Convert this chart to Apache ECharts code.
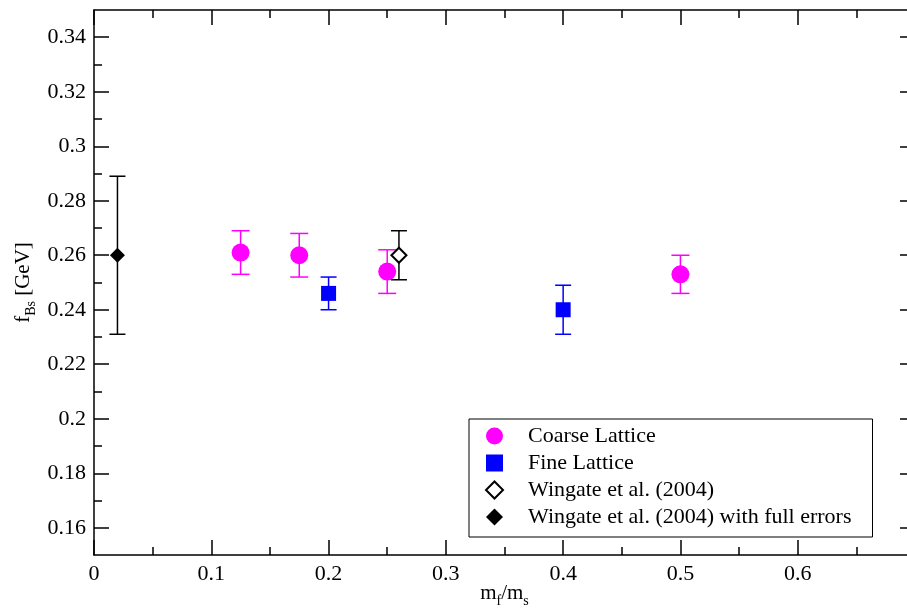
<!DOCTYPE html>
<html>
<head>
<meta charset="utf-8">
<script src="https://cdn.jsdelivr.net/npm/echarts@6/dist/echarts.min.js"></script>
<style>
html,body{margin:0;padding:0;background:#fff;}
#chart{width:907px;height:611px;}
</style>
</head>
<body>
<div id="chart"></div>
<script>
// ---- data ----
const xMajorTicks = [0, 0.1, 0.2, 0.3, 0.4, 0.5, 0.6];
const xMinorTicks = [0.05, 0.15, 0.25, 0.35, 0.45, 0.55, 0.65];
const yMajorTicks = [0.16, 0.18, 0.2, 0.22, 0.24, 0.26, 0.28, 0.3, 0.32, 0.34];
const yMinorTicks = [0.17, 0.19, 0.21, 0.23, 0.25, 0.27, 0.29, 0.31, 0.33];

const coarseX  = [0.125, 0.175, 0.25, 0.5];
const coarseY  = [0.261, 0.260, 0.254, 0.253];
const coarseLo = [0.253, 0.252, 0.246, 0.246];
const coarseHi = [0.269, 0.268, 0.262, 0.260];

const fineX  = [0.2, 0.4];
const fineY  = [0.246, 0.240];
const fineLo = [0.240, 0.231];
const fineHi = [0.252, 0.249];

const wingX  = [0.26];
const wingY  = [0.260];
const wingLo = [0.251];
const wingHi = [0.269];

const wingFullX  = [0.02];
const wingFullY  = [0.260];
const wingFullLo = [0.231];
const wingFullHi = [0.289];

const seriesNames = ['Coarse Lattice', 'Fine Lattice', 'Wingate et al. (2004)', 'Wingate et al. (2004) with full errors'];

// ---- helpers ----
const FONT = '"Liberation Serif", "Times New Roman", serif';
function pts(xs, ys) { return xs.map((x, i) => [x, ys[i]]); }
function errs(xs, lo, hi) { return xs.map((x, i) => [x, lo[i], hi[i]]); }
function errRender(color, hw) {
  return function (params, api) {
    const x = api.value(0), lo = api.value(1), hi = api.value(2);
    const a = api.coord([x, lo]), b = api.coord([x, hi]);
    const st = { stroke: color, lineWidth: 1.5 };
    return {
      type: 'group',
      children: [
        { type: 'line', shape: { x1: a[0], y1: a[1], x2: b[0], y2: b[1] }, style: st },
        { type: 'line', shape: { x1: a[0] - hw, y1: a[1], x2: a[0] + hw, y2: a[1] }, style: st },
        { type: 'line', shape: { x1: b[0] - hw, y1: b[1], x2: b[0] + hw, y2: b[1] }, style: st }
      ]
    };
  };
}
function xAx(pos, ticks, len, showLine, showLabel) {
  return {
    type: 'value', position: pos, min: 0, max: 0.7,
    axisLine: { show: showLine, onZero: false, lineStyle: { color: '#000', width: 1.5 } },
    axisTick: { show: true, inside: true, length: len, customValues: ticks, lineStyle: { color: '#000', width: 1.5 } },
    axisLabel: { show: showLabel, customValues: ticks, margin: 8, color: '#000', fontFamily: FONT, fontSize: 22 },
    splitLine: { show: false }
  };
}
function yAx(pos, ticks, len, showLine, showLabel) {
  return {
    type: 'value', position: pos, min: 0.15, max: 0.35,
    axisLine: { show: showLine, onZero: false, lineStyle: { color: '#000', width: 1.5 } },
    axisTick: { show: true, inside: true, length: len, customValues: ticks, lineStyle: { color: '#000', width: 1.5 } },
    axisLabel: { show: showLabel, customValues: ticks, margin: 8, color: '#000', fontFamily: FONT, fontSize: 22 },
    splitLine: { show: false }
  };
}

const richName = {
  n: { fontFamily: FONT, fontSize: 21, color: '#000', lineHeight: 22, verticalAlign: 'top' },
  s: { fontFamily: FONT, fontSize: 14, color: '#000', lineHeight: 14, verticalAlign: 'top', padding: [11, 0, 0, 0] }
};

const xAxes = [
  xAx('bottom', xMajorTicks, 15, true, true),
  xAx('bottom', xMinorTicks, 8, false, false),
  xAx('top', xMajorTicks, 15, true, false),
  xAx('top', xMinorTicks, 8, false, false)
];
xAxes[0].name = '{n|m}{s|f}{n|/m}{s|s}';
xAxes[0].nameLocation = 'middle';
xAxes[0].nameGap = 28;
xAxes[0].nameMoveOverlap = false;
xAxes[0].nameTextStyle = { rich: richName };

const yAxes = [
  yAx('left', yMajorTicks, 15, true, true),
  yAx('left', yMinorTicks, 8, false, false),
  yAx('right', yMajorTicks, 15, true, false),
  yAx('right', yMinorTicks, 8, false, false)
];
yAxes[0].name = '{n|f}{s|Bs}{n| [GeV]}';
yAxes[0].nameLocation = 'middle';
yAxes[0].nameGap = 59;
yAxes[0].nameMoveOverlap = false;
yAxes[0].nameTextStyle = { rich: richName };

const chart = echarts.init(document.getElementById('chart'), null, { renderer: 'canvas' });
chart.setOption({
  backgroundColor: '#fff',
  animation: false,
  grid: { left: 94, top: 10, width: 821, height: 545, containLabel: false, outerBoundsMode: 'none' },
  xAxis: xAxes,
  yAxis: yAxes,
  legend: {
    orient: 'vertical', left: 469, top: 419,
    padding: [6, 21, 9, 16],
    itemWidth: 17, itemHeight: 17, itemGap: 5,
    borderColor: '#000', borderWidth: 1, backgroundColor: '#fff',
    textStyle: { fontFamily: FONT, fontSize: 22, color: '#000', lineHeight: 20, padding: [0, 0, 0, 20] },
    data: [
      { name: seriesNames[0], icon: 'circle' },
      { name: seriesNames[1], icon: 'rect' },
      { name: seriesNames[2], icon: 'emptyDiamond' },
      { name: seriesNames[3], icon: 'diamond' }
    ]
  },
  series: [
    { name: 'coarseErr', type: 'custom', renderItem: errRender('#ff00ff', 9), data: errs(coarseX, coarseLo, coarseHi), z: 1, silent: true },
    { name: 'fineErr', type: 'custom', renderItem: errRender('#0000ff', 8), data: errs(fineX, fineLo, fineHi), z: 1, silent: true },
    { name: 'wingErr', type: 'custom', renderItem: errRender('#000000', 8), data: errs(wingX, wingLo, wingHi), z: 1, silent: true },
    { name: 'wingFullErr', type: 'custom', renderItem: errRender('#000000', 8), data: errs(wingFullX, wingFullLo, wingFullHi), z: 1, silent: true },
    { name: seriesNames[0], type: 'scatter', symbol: 'circle', symbolSize: 18, itemStyle: { color: '#ff00ff', opacity: 1 }, data: pts(coarseX, coarseY), z: 3 },
    { name: seriesNames[1], type: 'scatter', symbol: 'rect', symbolSize: 15, itemStyle: { color: '#0000ff', opacity: 1 }, data: pts(fineX, fineY), z: 3 },
    { name: seriesNames[2], type: 'scatter', symbol: 'emptyDiamond', symbolSize: 15, itemStyle: { color: '#000000', borderColor: '#000', borderWidth: 1.5, opacity: 1 }, data: pts(wingX, wingY), z: 3 },
    { name: seriesNames[3], type: 'scatter', symbol: 'diamond', symbolSize: 15, itemStyle: { color: '#000000', opacity: 1 }, data: pts(wingFullX, wingFullY), z: 3 }
  ]
});
</script>
</body>
</html>
